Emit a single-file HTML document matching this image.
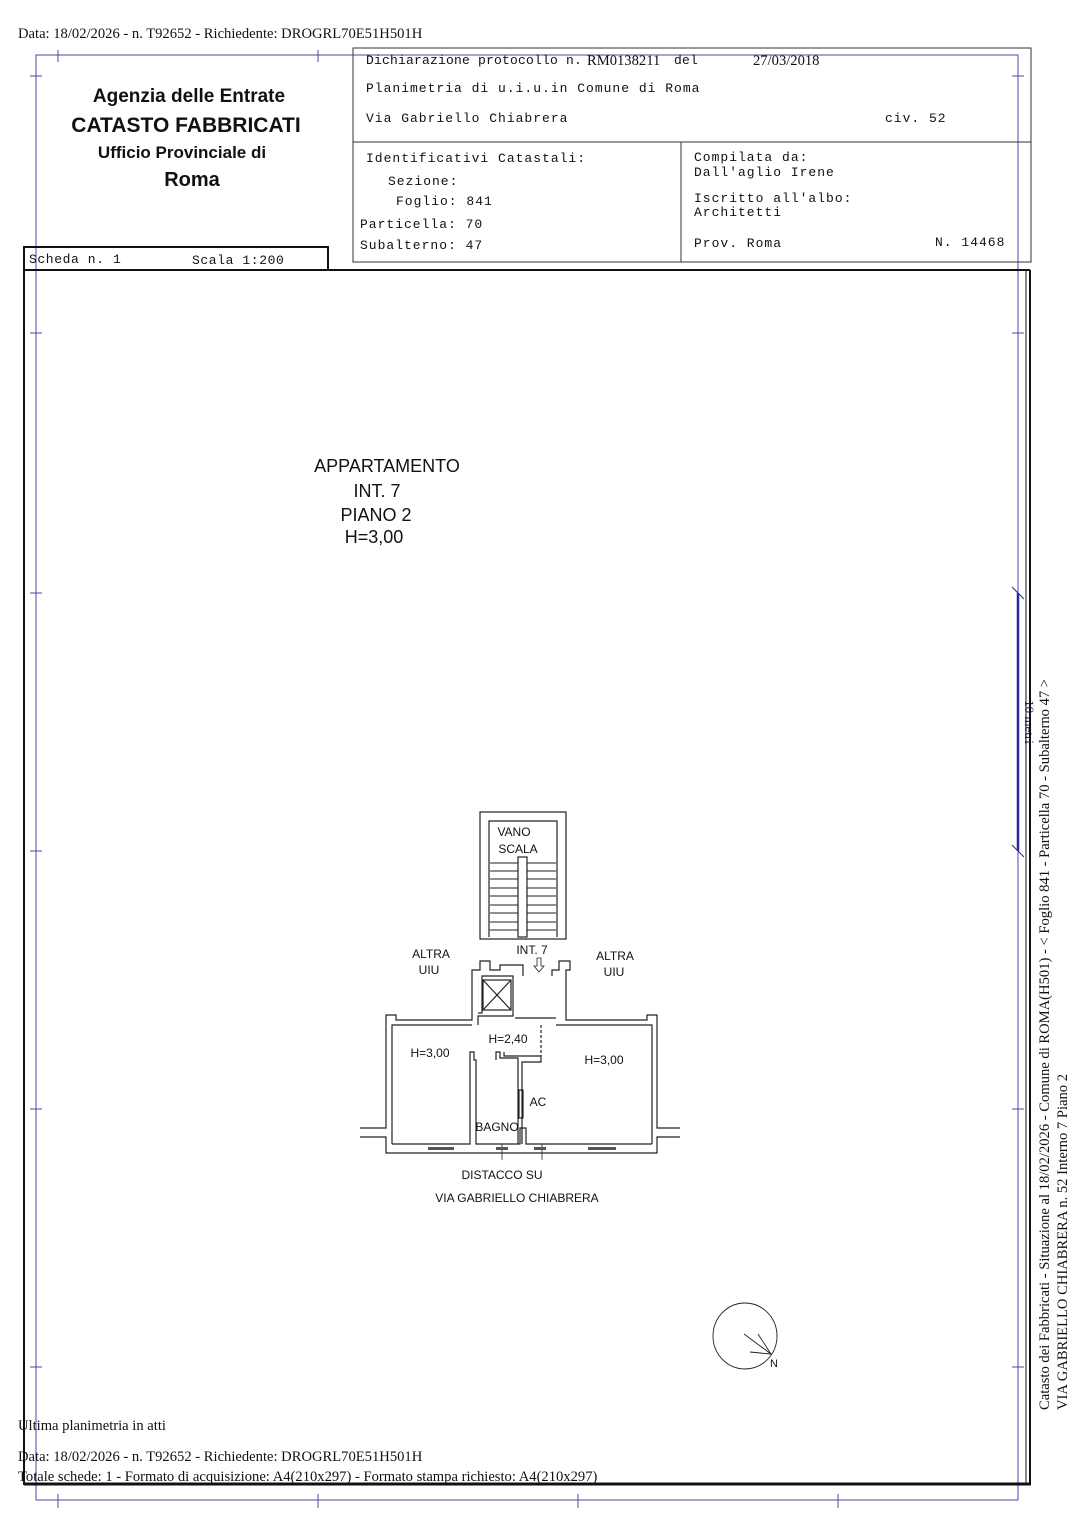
<!DOCTYPE html>
<html><head><meta charset="utf-8"><style>
html,body{margin:0;padding:0;background:#fff;}
svg{display:block;}
.mono{font-family:"Liberation Mono",monospace;font-size:13px;letter-spacing:1px;fill:#111;}
.serif{font-family:"Liberation Serif",serif;font-size:14.6px;fill:#111;}
.sans{font-family:"Liberation Sans",sans-serif;fill:#111;}
</style></head><body>
<svg width="1086" height="1536" viewBox="0 0 1086 1536" xmlns="http://www.w3.org/2000/svg">
<rect width="1086" height="1536" fill="#fff"/>
<text x="18" y="38" class="serif">Data: 18/02/2026 - n. T92652 - Richiedente: DROGRL70E51H501H</text>

<!-- blue frame -->
<g stroke="#4a4aa8" stroke-width="1" fill="none">
<rect x="36" y="55" width="982" height="1445"/>
<line x1="58" y1="50" x2="58" y2="62"/><line x1="318" y1="50" x2="318" y2="62"/>
<line x1="58" y1="1494" x2="58" y2="1508"/><line x1="318" y1="1494" x2="318" y2="1508"/>
<line x1="578" y1="1494" x2="578" y2="1508"/><line x1="838" y1="1494" x2="838" y2="1508"/>
<line x1="30" y1="76" x2="42" y2="76"/><line x1="30" y1="333" x2="42" y2="333"/><line x1="30" y1="593" x2="42" y2="593"/><line x1="30" y1="851" x2="42" y2="851"/><line x1="30" y1="1109" x2="42" y2="1109"/><line x1="30" y1="1367" x2="42" y2="1367"/>
<line x1="1012" y1="76" x2="1024" y2="76"/><line x1="1012" y1="333" x2="1024" y2="333"/><line x1="1012" y1="1109" x2="1024" y2="1109"/><line x1="1012" y1="1367" x2="1024" y2="1367"/>
</g>
<!-- scale bar -->
<g stroke="#2a2aa0" fill="none">
<line x1="1018" y1="593" x2="1018" y2="851" stroke-width="2.5"/>
<line x1="1012" y1="587" x2="1024" y2="599"/><line x1="1012" y1="845" x2="1024" y2="857"/>
</g>
<text transform="translate(1025,722) rotate(90)" text-anchor="middle" font-family="Liberation Serif,serif" font-size="13" fill="#2a2aa0">10 metri</text>

<!-- header box -->
<g stroke="#333" stroke-width="1" fill="none">
<rect x="353" y="48" width="678" height="214"/>
<line x1="353" y1="142" x2="1031" y2="142"/>
<line x1="681" y1="142" x2="681" y2="262"/>
</g>
<text x="366" y="64" class="mono" style="letter-spacing:0.2px">Dichiarazione protocollo n.</text>
<text x="587" y="65" class="serif" font-size="18">RM0138211</text>
<text x="674" y="64" class="mono" style="letter-spacing:0.2px">del</text>
<text x="753" y="65" class="serif" font-size="18">27/03/2018</text>
<text x="366" y="92" class="mono">Planimetria di u.i.u.in Comune di Roma</text>
<text x="366" y="122" class="mono">Via Gabriello Chiabrera</text>
<text x="885" y="122" class="mono">civ. 52</text>
<text x="366" y="162" class="mono">Identificativi Catastali:</text>
<text x="388" y="185" class="mono">Sezione:</text>
<text x="396" y="205" class="mono">Foglio: 841</text>
<text x="360" y="228" class="mono">Particella: 70</text>
<text x="360" y="249" class="mono">Subalterno: 47</text>
<text x="694" y="161" class="mono">Compilata da:</text>
<text x="694" y="176" class="mono">Dall'aglio Irene</text>
<text x="694" y="202" class="mono">Iscritto all'albo:</text>
<text x="694" y="216" class="mono">Architetti</text>
<text x="694" y="247" class="mono">Prov. Roma</text>
<text x="935" y="246" class="mono">N. 14468</text>

<text x="189" y="102" text-anchor="middle" class="sans" font-size="19" font-weight="bold">Agenzia delle Entrate</text>
<text x="186" y="132" text-anchor="middle" class="sans" font-size="21" font-weight="bold">CATASTO FABBRICATI</text>
<text x="182" y="158" text-anchor="middle" class="sans" font-size="17" font-weight="bold">Ufficio Provinciale di</text>
<text x="192" y="186" text-anchor="middle" class="sans" font-size="20" font-weight="bold">Roma</text>

<rect x="24" y="247" width="304" height="23" fill="none" stroke="#111" stroke-width="2"/>
<text x="29" y="263" class="mono" style="letter-spacing:0.6px">Scheda n. 1</text>
<text x="192" y="264" class="mono" style="letter-spacing:0.6px">Scala 1:200</text>

<!-- main frame -->
<g stroke="#111" fill="none">
<line x1="24" y1="270" x2="1030" y2="270" stroke-width="2"/>
<line x1="24" y1="270" x2="24" y2="1485" stroke-width="2"/>
<line x1="24" y1="1484" x2="1031" y2="1484" stroke-width="3"/>
<line x1="1026" y1="270" x2="1026" y2="1485" stroke-width="1"/>
<line x1="1030" y1="270" x2="1030" y2="1485" stroke-width="2"/>
</g>

<text transform="translate(1049,1410) rotate(-90)" class="serif" font-size="14.8">Catasto dei Fabbricati - Situazione al 18/02/2026 - Comune di ROMA(H501) - &lt;  Foglio 841 - Particella  70 - Subalterno 47 &gt;</text>
<text transform="translate(1067,1410) rotate(-90)" class="serif" font-size="14.8">VIA GABRIELLO CHIABRERA n. 52  Interno 7 Piano 2</text>

<g class="sans" font-size="18" text-anchor="middle">
<text x="387" y="472">APPARTAMENTO</text>
<text x="377" y="497">INT. 7</text>
<text x="376" y="521">PIANO 2</text>
<text x="374" y="543">H=3,00</text>
</g>

<!-- floor plan -->
<g stroke="#222" stroke-width="1.2" fill="none">
<rect x="480" y="812" width="86" height="127"/>
<polyline points="489,937 489,821 557,821 557,937"/>
<rect x="518" y="857" width="9" height="80"/>
<g stroke-width="0.9">
<line x1="490" y1="863" x2="518" y2="863"/><line x1="527" y1="863" x2="556" y2="863"/>
<line x1="490" y1="871" x2="518" y2="871"/><line x1="527" y1="871" x2="556" y2="871"/>
<line x1="490" y1="879" x2="518" y2="879"/><line x1="527" y1="879" x2="556" y2="879"/>
<line x1="490" y1="888" x2="518" y2="888"/><line x1="527" y1="888" x2="556" y2="888"/>
<line x1="490" y1="896" x2="518" y2="896"/><line x1="527" y1="896" x2="556" y2="896"/>
<line x1="490" y1="905" x2="518" y2="905"/><line x1="527" y1="905" x2="556" y2="905"/>
<line x1="490" y1="913" x2="518" y2="913"/><line x1="527" y1="913" x2="556" y2="913"/>
<line x1="490" y1="922" x2="518" y2="922"/><line x1="527" y1="922" x2="556" y2="922"/>
<line x1="490" y1="930" x2="518" y2="930"/><line x1="527" y1="930" x2="556" y2="930"/>
</g>
<polyline points="360,1128 386,1128 386,1015 396,1015 396,1020 472,1020 472,970 480,970 480,961 490,961 490,970 500,970 500,965 523,965 523,976"/>
<polyline points="552,976 552,970 559,970 559,961 570,961 570,970 566,970 566,1020 647,1020 647,1015 657,1015 657,1128 680,1128"/>
<polyline points="360,1137 386,1137 386,1153 657,1153 657,1137 680,1137"/>
<polyline points="392,1144 392,1025 472,1025"/>
<polyline points="478,1025 478,1016 513,1016 513,976 482,976 482,1013 478,1013"/>
<polyline points="515,1018 556,1018"/>
<polyline points="556,1025 652,1025 652,1144"/>
<polyline points="392,1144 470,1144 470,1052 474,1052 474,1060 476,1060 476,1144 520,1144 520,1128 526,1128 526,1144 652,1144" />
<polyline points="496,1060 496,1052 500,1052 500,1058 518,1058 518,1144"/>
<polyline points="522,1144 522,1062 541,1062 541,1056 504,1056 504,1052"/>
<line x1="541" y1="1025" x2="541" y2="1056" stroke-dasharray="3,2"/>
<rect x="519" y="1090" width="4" height="28"/>
<rect x="483" y="980" width="28" height="30"/>
<line x1="483" y1="980" x2="511" y2="1010"/><line x1="511" y1="980" x2="483" y2="1010"/>
<path d="M537,958 L537,966 L534,966 L539,972 L544,966 L541,966 L541,958 Z" stroke-width="0.8"/>
<line x1="502" y1="1144" x2="502" y2="1160" stroke-width="0.8"/>
<line x1="542" y1="1144" x2="542" y2="1160" stroke-width="0.8"/>
</g>
<g fill="#555">
<rect x="428" y="1147" width="26" height="3"/><rect x="588" y="1147" width="28" height="3"/>
<rect x="496" y="1147" width="12" height="3"/><rect x="534" y="1147" width="12" height="3"/>
</g>
<g class="sans" font-size="12" text-anchor="middle">
<text x="514" y="836">VANO</text>
<text x="518" y="853">SCALA</text>
<text x="431" y="958">ALTRA</text>
<text x="429" y="974">UIU</text>
<text x="532" y="954">INT. 7</text>
<text x="615" y="960">ALTRA</text>
<text x="614" y="976">UIU</text>
<text x="508" y="1043">H=2,40</text>
<text x="430" y="1057">H=3,00</text>
<text x="604" y="1064">H=3,00</text>
<text x="538" y="1106">AC</text>
<text x="497" y="1131">BAGNO</text>
<text x="502" y="1179">DISTACCO SU</text>
<text x="517" y="1202">VIA GABRIELLO CHIABRERA</text>
</g>

<g stroke="#222" fill="none" stroke-width="0.9">
<ellipse cx="745" cy="1336" rx="32" ry="33"/>
<line x1="744" y1="1334" x2="771" y2="1354"/>
<line x1="758" y1="1334" x2="771" y2="1354"/>
<line x1="750" y1="1352" x2="771" y2="1354"/>
</g>
<text x="770" y="1367" class="sans" font-size="11">N</text>

<text x="18" y="1430" class="serif">Ultima planimetria in atti</text>
<text x="18" y="1461" class="serif">Data: 18/02/2026 - n. T92652 - Richiedente: DROGRL70E51H501H</text>
<text x="18" y="1481" class="serif">Totale schede: 1 - Formato di acquisizione: A4(210x297)  - Formato stampa richiesto: A4(210x297)</text>
</svg>
</body></html>
